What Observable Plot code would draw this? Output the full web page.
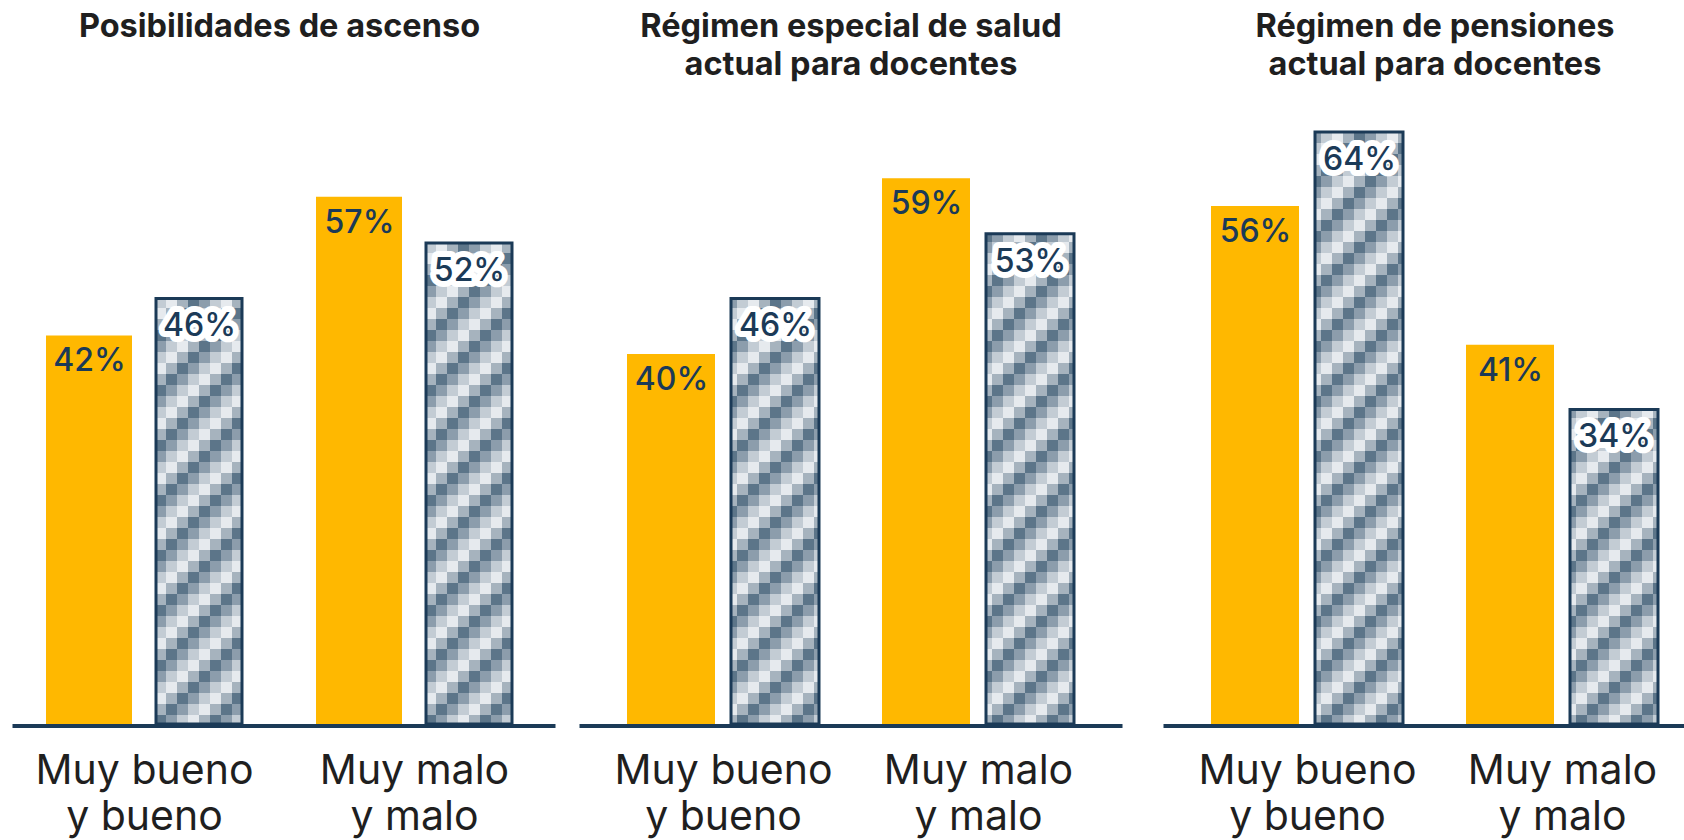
<!DOCTYPE html>
<html>
<head>
<meta charset="utf-8">
<script src="https://cdn.jsdelivr.net/npm/d3@7"></script>
<script src="https://cdn.jsdelivr.net/npm/@observablehq/plot@0.6"></script>
<style>
  html, body { margin: 0; padding: 0; background: #ffffff; overflow: hidden; }
  #wrap { position: relative; width: 1684px; height: 840px; overflow: hidden; }
  .panel { position: absolute; top: 0; width: 540px; height: 840px; }
  .panel svg { max-width: none !important; }
</style>
</head>
<body>
<div id="wrap"></div>
<script>
// ---- data ----
const chartTitles = [
  "Posibilidades de ascenso",
  "Régimen especial de salud\nactual para docentes",
  "Régimen de pensiones\nactual para docentes"
];
const groups = ["Muy bueno y bueno", "Muy malo y malo"];
const groupLabels = ["Muy bueno\ny bueno", "Muy malo\ny malo"];
const series = ["Serie 1", "Serie 2"];
const serie1Values = [[42, 57], [40, 59], [56, 41]];
const serie2Values = [[46, 52], [46, 53], [64, 34]];

// ---- styling ----
const navy = "#1b3a57";
const orange = "#FFB800";
const textDark = "#1f1f1f";
const patternShades = ["#5c7589", "#8c9dac", "#c3ccd4", "#e6eaee", "#a6b3be"];
const cell = 11;

// panel layout (left offset, facet band padding, axis-line extension)
const panels = [
  {left: 14,   fxInner: 0.266, fxOuter: 0.1295, fxAlign: 0.437, xInner: 0.215, extL: 31, extR: 40},
  {left: 581,  fxInner: 0.247, fxOuter: 0.18,   fxAlign: 0.5,   xInner: 0.154, extL: 46, extR: 46},
  {left: 1165, fxInner: 0.247, fxOuter: 0.18,   fxAlign: 0.5,   xInner: 0.154, extL: 46, extR: 46}
];

// checker pattern definition (shared)
const defsSvg = d3.select("body").append("svg")
  .attr("width", 0).attr("height", 0)
  .style("position", "absolute").style("left", "-10px");
const pat = defsSvg.append("defs").append("pattern")
  .attr("id", "checker")
  .attr("patternUnits", "userSpaceOnUse")
  .attr("width", cell * patternShades.length)
  .attr("height", cell * patternShades.length);
for (let r = 0; r < patternShades.length; r++) {
  for (let c = 0; c < patternShades.length; c++) {
    pat.append("rect")
      .attr("x", c * cell).attr("y", r * cell)
      .attr("width", cell).attr("height", cell)
      .attr("shape-rendering", "crispEdges")
      .attr("fill", patternShades[(r + c) % patternShades.length]);
  }
}

const wrap = document.getElementById("wrap");
const labelOf = g => groupLabels[groups.indexOf(g)];

chartTitles.forEach((title, i) => {
  const p = panels[i];
  const rows = [];
  groups.forEach((g, j) => {
    rows.push({group: g, series: series[0], value: serie1Values[i][j]});
    rows.push({group: g, series: series[1], value: serie2Values[i][j]});
  });
  const s1 = rows.filter(d => d.series === series[0]);
  const s2 = rows.filter(d => d.series === series[1]);

  const chart = Plot.plot({
    width: 540,
    height: 840,
    marginLeft: 0,
    marginRight: 0,
    marginTop: 76.5,
    marginBottom: 116,
    fx: {domain: groups, paddingInner: p.fxInner, paddingOuter: p.fxOuter, align: p.fxAlign, label: null},
    x: {domain: series, paddingInner: p.xInner, paddingOuter: 0, axis: null},
    y: {domain: [0, 70], axis: null},
    style: {fontFamily: "Inter, sans-serif", overflow: "visible", background: "transparent", maxWidth: "none"},
    marks: [
      Plot.barY(s1, {fx: "group", x: "series", y: "value", fill: orange}),
      Plot.barY(s2, {fx: "group", x: "series", y: "value", fill: "url(#checker)", stroke: navy, strokeWidth: 3}),
      Plot.frame({facet: "super", anchor: "bottom", stroke: navy, strokeWidth: 4, dy: 1.5,
        insetLeft: -p.extL, insetRight: -p.extR}),
      Plot.text(s1, {fx: "group", x: "series", y: "value", text: d => `${d.value}%`,
        dy: 25, fill: navy, fontSize: 32, fontWeight: 500}),
      Plot.text(s2, {fx: "group", x: "series", y: "value", text: d => `${d.value}%`,
        dy: 27, fill: navy, fontSize: 32, fontWeight: 500,
        stroke: "white", strokeWidth: 12, strokeLinejoin: "round"}),
      Plot.text([title], {facet: "super", frameAnchor: "top", lineAnchor: "top", dy: -67,
        fontSize: 32.5, fontWeight: 700, lineHeight: 1.17, fill: textDark}),
      Plot.axisFx({anchor: "bottom", tickSize: 0, tickPadding: 27, fontSize: 41, lineHeight: 1.12,
        color: textDark, fill: textDark, label: null, tickFormat: labelOf})
    ]
  });
  chart.style.maxWidth = "none";
  const div = document.createElement("div");
  div.className = "panel";
  div.style.left = p.left + "px";
  div.appendChild(chart);
  wrap.appendChild(div);
});
</script>
</body>
</html>
